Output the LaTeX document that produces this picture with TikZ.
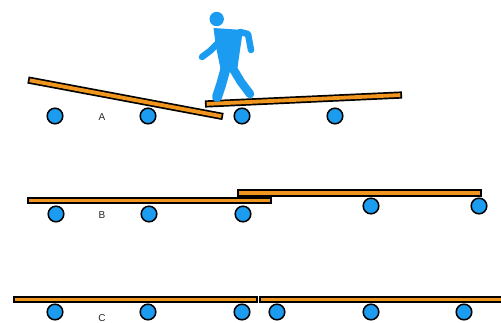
\documentclass[tikz,border=0pt]{standalone}
\usepackage{fontspec}
\setmainfont{Liberation Sans}
\usetikzlibrary{calc}
\usepackage{xcolor}

\definecolor{wheelblue}{RGB}{28,156,240}
\definecolor{plankorange}{RGB}{240,150,30}

\tikzset{
  wheel/.style={draw=black, fill=wheelblue, line width=1.5pt},
  walker/.style={draw=wheelblue, line cap=round, line join=round},
  rowlabel/.style={font=\fontsize{10}{11}\selectfont, text=black!85},
}

% board between two coordinates: black rim, orange core
\newcommand{\plank}[2]{%
  \draw[line width=7.2pt, black] (#1) -- (#2);
  \draw[line width=3.8pt, plankorange, shorten <=1.7pt, shorten >=1.7pt] (#1) -- (#2);
}

\begin{document}
\begin{tikzpicture}[x=1pt, y=-1pt]

      \useasboundingbox (0,0) rectangle (501,323);
      \fill[white] (0,0) rectangle (501,323);

      % Case A: tipped boards
      \coordinate (a1) at (28,80);
      \coordinate (a2) at (223,116.5);
      \coordinate (a3) at (205,104);
      \coordinate (a4) at (402,95);
      \foreach \x in {55,148,242,335}
      {
        \draw[wheel] (\x,116) circle (7.8);
      }
      \plank{a1}{a2}
      \plank{a3}{a4}
      \node[rowlabel] (labA) at (102,117) {A};

      % Walker
      \fill[wheelblue] (216.7,19) circle (7.2);
      \fill[wheelblue] (213.5,28) -- (243,30) -- (240,50) -- (237,71) -- (221,71) -- (216,47) -- cycle;
      \draw[walker, line width=6.5pt] (218,43) -- (210,51) -- (202,57);
      \draw[walker, line width=6.5pt] (240,32) -- (248,34) -- (251,50);
      \draw[walker, line width=10pt] (226,67) -- (221,85) -- (217,97);
      \draw[walker, line width=8.5pt] (232,67) -- (241,82) -- (250,94);

      % Case B: overlapping boards
      \coordinate (b1) at (27,200.5);
      \coordinate (b2) at (272,200.5);
      \coordinate (b3) at (237,193);
      \coordinate (b4) at (482,193);
      \foreach \x in {56,149,243}
      {
        \draw[wheel] (\x,214) circle (7.8);
      }
      \foreach \x in {371,479}
      {
        \draw[wheel] (\x,206) circle (7.8);
      }
      \plank{b1}{b2}
      \plank{b3}{b4}
      \node[rowlabel] (labB) at (102,215) {B};

      % Case C: boards end to end
      \coordinate (c1) at (13,299.5);
      \coordinate (c2) at (258,299.5);
      \coordinate (c3) at (259,299.5);
      \coordinate (c4) at (520,299.5);
      \foreach \x in {55,148,242,277,371,464}
      {
        \draw[wheel] (\x,312) circle (7.8);
      }
      \plank{c1}{c2}
      \plank{c3}{c4}
      \node[rowlabel] (labC) at (102,318) {C};

\end{tikzpicture}
\end{document}
